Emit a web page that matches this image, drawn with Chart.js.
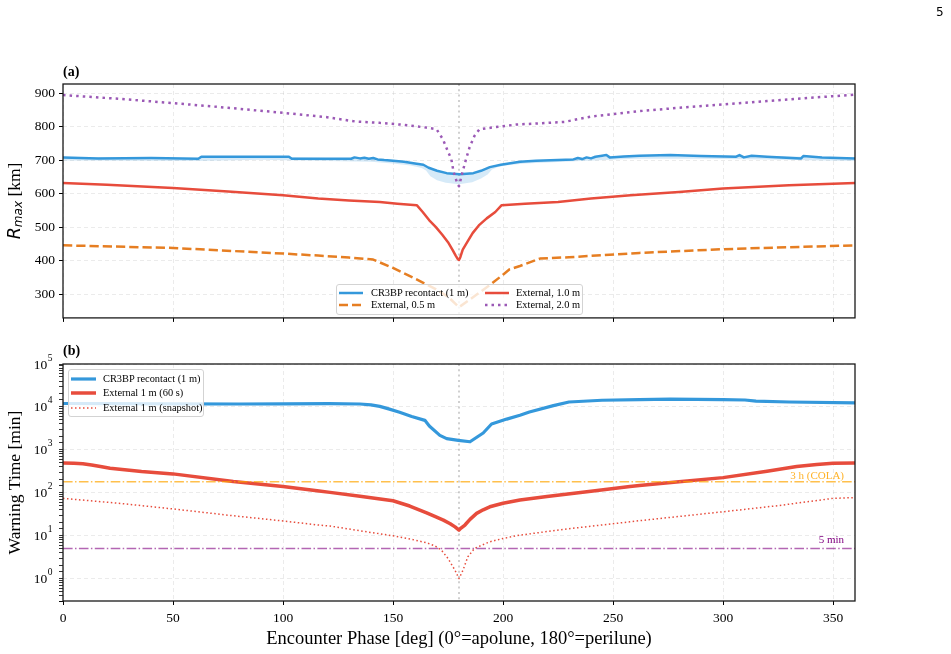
<!DOCTYPE html>
<html>
<head>
<meta charset="utf-8">
<script src="https://cdn.jsdelivr.net/npm/chart.js@4.4.0/dist/chart.umd.min.js"></script>
<style>
  body { margin: 0; background: #fff; width: 951px; height: 654px; position: relative; overflow: hidden;
         font-family: "Liberation Serif", "Times New Roman", serif; color: #000; }
  canvas { position: absolute; left: 0; }
  #topCanvas { top: 0; }
  #botCanvas { top: 330px; }
  .tag { position: absolute; font-weight: bold; font-size: 14px; line-height: 14px; }
  .pageno { position: absolute; left: 936px; top: 5px; font-size: 12px; line-height: 14px; font-family: "DejaVu Sans", sans-serif; }
  .legend { position: absolute; box-sizing: border-box; background: rgba(255,255,255,0.8);
            border: 1px solid #d3d3d3; border-radius: 3px; font-size: 10.4px; }
  .item { position: absolute; height: 12px; line-height: 12px; white-space: nowrap; }
  .item svg { position: absolute; left: 0; top: 1px; }
  .item span { position: absolute; top: 0; }
</style>
</head>
<body>
<canvas id="topCanvas" width="951" height="330"></canvas>
<canvas id="botCanvas" width="951" height="324"></canvas>

<div class="tag" style="left:63px; top:65px;">(a)</div>
<div class="tag" style="left:63px; top:344px;">(b)</div>
<div class="pageno">5</div>

<!-- legend panel (a), 2 columns -->
<div class="legend" style="left:336px; top:284px; width:247px; height:31px;">
  <div class="item" style="left:2px; top:2px;">
    <svg width="24" height="10"><line x1="0" y1="5" x2="24" y2="5" stroke="#3498db" stroke-width="2.5"/></svg>
    <span style="left:32px;">CR3BP recontact (1 m)</span>
  </div>
  <div class="item" style="left:2px; top:14px;">
    <svg width="24" height="10"><line x1="0" y1="5" x2="24" y2="5" stroke="#e67e22" stroke-width="2.5" stroke-dasharray="9 4"/></svg>
    <span style="left:32px;">External, 0.5 m</span>
  </div>
  <div class="item" style="left:148px; top:2px;">
    <svg width="24" height="10"><line x1="0" y1="5" x2="24" y2="5" stroke="#e74c3c" stroke-width="2.5"/></svg>
    <span style="left:31px;">External, 1.0 m</span>
  </div>
  <div class="item" style="left:148px; top:14px;">
    <svg width="24" height="10"><line x1="0" y1="5" x2="24" y2="5" stroke="#9b59b6" stroke-width="2.5" stroke-dasharray="2.5 4"/></svg>
    <span style="left:31px;">External, 2.0 m</span>
  </div>
</div>

<!-- legend panel (b) -->
<div class="legend" style="left:68px; top:369px; width:136px; height:48px;">
  <div class="item" style="left:2px; top:3px;">
    <svg width="25" height="10"><line x1="0" y1="5" x2="25" y2="5" stroke="#3498db" stroke-width="3.2"/></svg>
    <span style="left:32px;">CR3BP recontact (1 m)</span>
  </div>
  <div class="item" style="left:2px; top:17px;">
    <svg width="25" height="10"><line x1="0" y1="5" x2="25" y2="5" stroke="#e74c3c" stroke-width="3.5"/></svg>
    <span style="left:32px;">External 1 m (60 s)</span>
  </div>
  <div class="item" style="left:2px; top:32px;">
    <svg width="25" height="10"><line x1="0" y1="5" x2="25" y2="5" stroke="#e74c3c" stroke-width="1.5" stroke-dasharray="1.5 2.5"/></svg>
    <span style="left:32px;">External 1 m (snapshot)</span>
  </div>
</div>

<script>
// ---------- data ----------
const xTickStep = 50;
const phaseMin = 0, phaseMax = 360;
const perilunePhase = 180;
const rmaxTicks = [300, 400, 500, 600, 700, 800, 900];

// panel (a): R_max [km]
const phaseCr3bp = [0, 16, 40, 61.5, 62.9, 80, 102.7, 104, 120, 131, 132.5, 135, 137, 139, 141, 143, 146, 150, 155, 160, 163.8, 166.2, 170, 174.4, 180.3, 186.5, 190, 194, 199, 207.7, 215, 225, 232, 234, 236, 238, 240, 242, 245, 247, 248.5, 255, 262, 276, 290, 306, 307.5, 309.5, 313, 320, 335.5, 336.5, 345, 360];
const rmaxCr3bp  = [708, 705, 706, 704, 710, 710, 710, 704, 704, 704, 708, 705, 707, 704, 706, 702, 700, 698, 695, 690, 686, 677, 668, 661, 658, 661, 668, 679, 686, 695, 698, 700, 702, 706, 703, 708, 705, 710, 713, 715, 708, 711, 713, 715, 712, 710, 715, 708, 713, 710, 705, 712, 708, 705];

const phaseBand  = [0, 30, 60, 90, 120, 140, 150, 158, 163, 165, 167, 170, 174, 180, 186, 190, 193, 195, 198, 203, 210, 230, 260, 290, 320, 360];
const rmaxBandHi = [710, 707, 706, 711, 706, 705, 700, 693, 688, 684, 678, 670, 663, 660, 663, 670, 677, 682, 686, 690, 697, 703, 715, 714, 712, 707];
const rmaxBandLo = [699, 698, 697, 701, 697, 695, 690, 684, 676, 669, 652, 640, 632, 628, 634, 645, 657, 672, 680, 685, 690, 696, 704, 704, 702, 697];

const phaseExt05 = [0, 50, 100, 116, 130, 141, 150, 159.2, 164, 169.4, 175, 180, 185, 189.4, 195, 200, 203, 207.7, 216.8, 230, 262, 300, 330, 360];
const rmaxExt05  = [445.6, 437.7, 421, 415, 409, 403, 378, 349, 333, 315, 292, 261, 284, 305, 332, 358, 374, 384, 406, 410, 423, 434, 440, 445.6];

const phaseExt10 = [0, 20, 50, 75, 100, 116, 130, 144, 152, 160.8, 163.5, 166.4, 169.5, 172.4, 175, 177, 178.5, 179.4, 180, 180.6, 181.7, 184, 186.2, 189, 192.6, 196.5, 199.4, 210, 225, 240, 258, 280, 300, 330, 360];
const rmaxExt10  = [631.5, 626, 617, 606, 595, 585, 579, 575, 570, 565.5, 545, 521, 500, 477, 455, 433, 415, 405, 402, 410, 433, 458, 482, 505, 526, 545, 565.5, 570, 575, 585, 595, 605, 615, 625, 631.5];

const phaseExt20 = [0, 25, 50, 75, 100, 120, 133, 144, 155, 165, 169.8, 172.7, 175, 176.5, 177.5, 179.4, 180, 181.4, 183, 184.8, 187, 189.3, 195, 206, 215, 228, 240, 262, 280, 300, 320, 340, 360];
const rmaxExt20  = [894, 883, 870, 856, 841, 828, 815, 811, 805, 797, 792, 762, 725, 703, 666, 627, 622, 659, 698, 738, 772, 792, 797, 806, 809, 814, 830, 846, 856, 866, 876, 886, 895];

// panel (b): warning time [min]
const phaseWarnCr3bp = [0, 20, 50, 80, 100, 121, 135, 140, 144, 148, 153, 158.5, 164.5, 166.5, 171.3, 174.4, 179.7, 185, 191, 194.8, 201.7, 207.7, 212, 222.9, 230, 245, 262, 276, 300, 310, 315, 330, 360];
const warnCr3bp      = [1.2e4, 1.19e4, 1.18e4, 1.17e4, 1.18e4, 1.19e4, 1.17e4, 1.12e4, 1.03e4, 9.0e3, 7.5e3, 6.0e3, 4.86e3, 3.6e3, 2.17e3, 1.82e3, 1.66e3, 1.54e3, 2.47e3, 4.0e3, 5.2e3, 6.4e3, 7.6e3, 1.07e4, 1.3e4, 1.43e4, 1.48e4, 1.52e4, 1.48e4, 1.45e4, 1.37e4, 1.3e4, 1.24e4];

const phaseWarn60 = [0, 5, 9, 13, 17, 21.4, 28, 35.7, 50, 77.4, 100, 116.4, 121.4, 135, 150, 157.6, 165.3, 169, 172.9, 176, 178.2, 180, 180.9, 182.7, 185, 188, 191, 194, 200, 207.7, 220, 240, 257.7, 262, 280, 300, 320, 333.5, 342.6, 350, 360];
const warn60      = [490, 486, 472, 445, 410, 374, 342, 312, 275, 182, 139, 110, 102, 83, 65, 49, 34, 28, 23, 19, 16, 13.5, 15, 17.7, 24, 33, 40, 47, 57, 68, 82, 108, 139, 147, 180, 225, 318, 407, 454, 485, 490];

const phaseSnap = [0, 25, 50, 75, 100, 116, 121.4, 135, 150, 158, 165.3, 169, 172, 175, 178.2, 180, 181.8, 184, 187, 190, 194, 200, 207.7, 230, 257.7, 262, 280, 300, 325, 350, 360];
const warnSnap  = [74, 57, 42, 30, 22, 17.7, 16.7, 13, 9.9, 8.3, 6.8, 5.8, 4.6, 2.94, 1.56, 1.0, 1.56, 3.2, 5.0, 5.9, 7.2, 8.6, 10.3, 14.5, 21, 22.3, 28, 36, 50, 74, 77];

const colaMin = 180;   // 3 h
const alertMin = 5;
const logExponents = [0, 1, 2, 3, 4, 5];

// ---------- styling ----------
const serif = '"Liberation Serif", "Times New Roman", serif';
Chart.defaults.font.family = serif;
Chart.defaults.color = '#000';
const gridColor = 'rgba(176,176,176,0.32)';
const gridDash = [4, 3];
const BLUE = '#3498db', RED = '#e74c3c', ORANGE = '#e67e22', PURPLE = '#9b59b6';

const pts = (xs, ys) => xs.map((x, i) => ({ x: x, y: ys[i] }));

function lineSet(label, xs, ys, color, width, dash, order) {
  return {
    label: label, data: pts(xs, ys), borderColor: color, backgroundColor: color,
    borderWidth: width, borderDash: dash || [], pointRadius: 0, tension: 0,
    fill: false, order: order, borderJoinStyle: 'round'
  };
}

function phaseAxis(withLabels) {
  return {
    type: 'linear', min: phaseMin, max: phaseMax,
    ticks: { stepSize: xTickStep, includeBounds: false, display: withLabels,
             font: { size: 13.5 }, padding: 5, maxRotation: 0, color: '#000' },
    grid: { color: gridColor, lineWidth: 0.8, tickColor: '#000', tickLength: 4, tickWidth: 1 },
    border: { display: false, dash: gridDash },
    afterFit: s => { s.height = withLabels ? 53 : 9; }
  };
}

// frame + perilune marker, shared by both panels
const framePlugin = {
  id: 'frame',
  beforeDatasetsDraw(chart) {
    const { ctx, chartArea: a } = chart;
    const x = chart.scales.x.getPixelForValue(perilunePhase);
    ctx.save();
    ctx.strokeStyle = 'rgba(150,150,150,0.45)';
    ctx.lineWidth = 2;
    ctx.setLineDash([2, 3.3]);
    ctx.beginPath(); ctx.moveTo(x, a.top); ctx.lineTo(x, a.bottom); ctx.stroke();
    ctx.restore();
  },
  afterDatasetsDraw(chart) {
    const { ctx, chartArea: a } = chart;
    ctx.save();
    ctx.strokeStyle = '#1a1a1a';
    ctx.lineWidth = 1.3;
    ctx.strokeRect(a.left, a.top, a.right - a.left, a.bottom - a.top);
    ctx.restore();
  }
};

// R_max [km] with italic sans R and subscript
const topTitlePlugin = {
  id: 'topTitle',
  afterDraw(chart) {
    const { ctx, chartArea: a } = chart;
    ctx.save();
    ctx.translate(15, (a.top + a.bottom) / 2);
    ctx.rotate(-Math.PI / 2);
    ctx.fillStyle = '#000';
    ctx.textBaseline = 'alphabetic';
    ctx.textAlign = 'left';
    const fR = 'italic 17.5px "DejaVu Sans"', fSub = 'italic 12px "DejaVu Sans"', fRest = '17.5px ' + serif;
    ctx.font = fR; const wR = ctx.measureText('R').width;
    ctx.font = fSub; const wS = ctx.measureText('max').width;
    ctx.font = fRest; const wT = ctx.measureText(' [km]').width;
    let x = -(wR + wS + wT) / 2;
    ctx.font = fR; ctx.fillText('R', x, 4.5); x += wR;
    ctx.font = fSub; ctx.fillText('max', x, 7); x += wS;
    ctx.font = fRest; ctx.fillText(' [km]', x, 4.5);
    ctx.restore();
  }
};

// log labels 10^n, axis titles and reference-line notes for panel (b)
const bottomTextPlugin = {
  id: 'bottomText',
  afterDraw(chart) {
    const { ctx, chartArea: a } = chart;
    const y = chart.scales.y;
    ctx.save();
    ctx.fillStyle = '#000';
    ctx.textBaseline = 'middle';
    ctx.textAlign = 'left';
    logExponents.forEach(e => {
      const py = y.getPixelForValue(Math.pow(10, e));
      ctx.font = '13.5px ' + serif; const wB = ctx.measureText('10').width;
      ctx.font = '9.5px ' + serif;  const wE = ctx.measureText(String(e)).width;
      const x0 = 52 - wB - wE;
      ctx.font = '13.5px ' + serif; ctx.fillText('10', x0, py + 1);
      ctx.font = '9.5px ' + serif;  ctx.fillText(String(e), x0 + wB + 0.5, py - 6);
    });

    ctx.font = '18.5px ' + serif;
    ctx.textAlign = 'center';
    ctx.textBaseline = 'alphabetic';
    ctx.fillText('Encounter Phase [deg] (0\u00b0=apolune, 180\u00b0=perilune)', (a.left + a.right) / 2, 313.5);

    ctx.font = '17.5px ' + serif;
    ctx.save();
    ctx.translate(15, (a.top + a.bottom) / 2);
    ctx.rotate(-Math.PI / 2);
    ctx.fillText('Warning Time [min]', 0, 4.5);
    ctx.restore();

    ctx.font = '11px ' + serif;
    ctx.textAlign = 'right';
    ctx.textBaseline = 'middle';
    ctx.fillStyle = 'rgba(255,165,0,0.85)';
    ctx.fillText('3 h (COLA)', a.right - 11, y.getPixelForValue(colaMin) - 6);
    ctx.fillStyle = '#800080';
    ctx.fillText('5 min', a.right - 11, y.getPixelForValue(alertMin) - 8);
    ctx.restore();
  }
};

// ---------- panel (a) ----------
new Chart(document.getElementById('topCanvas'), {
  type: 'line',
  data: {
    datasets: [
      { label: 'band hi', data: pts(phaseBand, rmaxBandHi), borderWidth: 0, pointRadius: 0, fill: false, order: 9, tension: 0 },
      { label: 'band lo', data: pts(phaseBand, rmaxBandLo), borderWidth: 0, pointRadius: 0, fill: '-1',
        backgroundColor: 'rgba(52,152,219,0.2)', order: 8, tension: 0 },
      lineSet('CR3BP recontact (1 m)', phaseCr3bp, rmaxCr3bp, BLUE, 2.5, null, 7),
      lineSet('External, 0.5 m', phaseExt05, rmaxExt05, ORANGE, 2.5, [9.25, 4], 6),
      lineSet('External, 1.0 m', phaseExt10, rmaxExt10, RED, 2.5, null, 5),
      lineSet('External, 2.0 m', phaseExt20, rmaxExt20, PURPLE, 2.5, [2.5, 4.1], 4)
    ]
  },
  options: {
    responsive: false, animation: false, devicePixelRatio: 1,
    layout: { padding: { top: 84, right: 96, left: 0, bottom: 0 } },
    plugins: { legend: { display: false }, tooltip: { enabled: false } },
    scales: {
      x: phaseAxis(false),
      y: {
        type: 'linear', min: 229, max: 927,
        afterBuildTicks: s => { s.ticks = rmaxTicks.map(v => ({ value: v })); },
        ticks: { font: { size: 13.5 }, padding: 4, color: '#000' },
        grid: { color: gridColor, lineWidth: 0.8, tickColor: '#000', tickLength: 4, tickWidth: 1 },
        border: { display: false, dash: gridDash },
        afterFit: s => { s.width = 63; }
      }
    }
  },
  plugins: [framePlugin, topTitlePlugin]
});

// ---------- panel (b) ----------
const isDecade = v => Math.abs(Math.log10(v) - Math.round(Math.log10(v))) < 1e-9;

new Chart(document.getElementById('botCanvas'), {
  type: 'line',
  data: {
    datasets: [
      lineSet('CR3BP recontact (1 m)', phaseWarnCr3bp, warnCr3bp, BLUE, 3.2, null, 6),
      lineSet('External 1 m (60 s)', phaseWarn60, warn60, RED, 3.5, null, 5),
      lineSet('External 1 m (snapshot)', phaseSnap, warnSnap, RED, 1.5, [1.5, 2.5], 4),
      lineSet('3 h (COLA)', [phaseMin, phaseMax], [colaMin, colaMin], 'rgba(255,165,0,0.7)', 1.5, [9.6, 2.4, 1.5, 2.4], 3),
      lineSet('5 min', [phaseMin, phaseMax], [alertMin, alertMin], 'rgba(128,0,128,0.6)', 1.5, [9.6, 2.4, 1.5, 2.4], 2)
    ]
  },
  options: {
    responsive: false, animation: false, devicePixelRatio: 1,
    layout: { padding: { top: 34, right: 96, left: 0, bottom: 0 } },
    plugins: { legend: { display: false }, tooltip: { enabled: false } },
    scales: {
      x: phaseAxis(true),
      y: {
        type: 'logarithmic', min: 0.3, max: 1e5,
        ticks: { autoSkip: false, callback: () => '', padding: 4 },
        grid: {
          color: c => (c.tick && isDecade(c.tick.value)) ? gridColor : 'rgba(0,0,0,0)',
          lineWidth: 0.8, tickColor: '#000', tickWidth: 0.8,
          tickLength: 4
        },
        border: { display: false, dash: gridDash },
        afterFit: s => { s.width = 63; }
      }
    }
  },
  plugins: [framePlugin, bottomTextPlugin]
});
</script>
</body>
</html>
